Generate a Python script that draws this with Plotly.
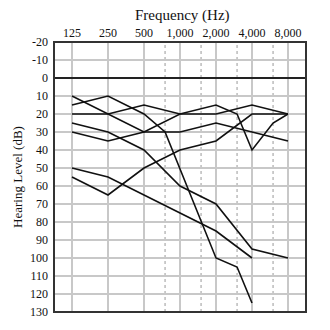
import plotly.graph_objects as go
import math

# Frequencies (Hz)
freq_std = [125, 250, 500, 1000, 2000, 4000, 8000]
freq_d = [125, 250, 500, 750, 2000, 3000, 4000]
freq_e = [125, 250, 500, 1000, 2000, 3000, 4000, 6000, 8000]
freq_g = [125, 250, 500, 1000, 2000, 4000]

# Hearing levels (dB)
series_a = [10, 20, 30, 30, 25, 30, 35]
series_b = [25, 30, 40, 60, 70, 95, 100]
series_c = [30, 35, 30, 20, 20, 15, 20]
series_d = [15, 10, 20, 30, 100, 105, 125]
series_e = [20, 20, 15, 20, 15, 20, 40, 25, 20]
series_f = [55, 65, 50, 40, 35, 20, 20]
series_g = [50, 55, 65, 75, 85, 100]

tick_vals = [125, 250, 500, 1000, 2000, 4000, 8000]
tick_text = ["125", "250", "500", "1,000", "2,000", "4,000", "8,000"]
inter_freqs = [750, 1500, 3000, 6000]
y_ticks = [-20, -10, 0, 10, 20, 30, 40, 50, 60, 70, 80, 90, 100, 110, 120, 130]
y_tick_text = ["-20", "-10", "0", "10", "20", "30", "40", "50", "60", "70", "80",
               "90", "100", "110", "120", "130"]

FONT = "Liberation Serif, Times New Roman, serif"

fig = go.Figure()
for fx, fy in [(freq_std, series_a), (freq_std, series_b), (freq_std, series_c),
               (freq_d, series_d), (freq_e, series_e), (freq_std, series_f),
               (freq_g, series_g)]:
    fig.add_trace(go.Scatter(x=fx, y=fy, mode="lines",
                             line=dict(color="#111111", width=1.6),
                             showlegend=False, hoverinfo="skip"))

x0 = math.log10(125 / math.sqrt(2))
x1 = math.log10(8000 * math.sqrt(2))

shapes = []
for f in inter_freqs:
    shapes.append(dict(type="line", xref="x", yref="paper", x0=f, x1=f, y0=0, y1=1,
                       line=dict(color="#9a9a9a", width=1, dash="dot"), layer="below"))
shapes.append(dict(type="line", xref="paper", yref="y", x0=0, x1=1, y0=0, y1=0,
                   line=dict(color="#222222", width=2)))
shapes.append(dict(type="rect", xref="paper", yref="paper", x0=0, x1=1, y0=0, y1=1,
                   line=dict(color="#333333", width=2)))

fig.update_layout(
    width=330, height=330,
    margin=dict(l=54, r=24, t=42, b=18),
    paper_bgcolor="white", plot_bgcolor="white",
    font=dict(family=FONT, size=12, color="#111111"),
    shapes=shapes,
    annotations=[dict(text="Frequency (Hz)", xref="paper", yref="paper",
                      x=0.51, y=1, yshift=27, showarrow=False,
                      xanchor="center", yanchor="middle",
                      font=dict(family=FONT, size=15, color="#111111"))],
    xaxis=dict(type="log", range=[x0, x1], side="top",
               tickvals=tick_vals, ticktext=tick_text,
               showgrid=True, gridcolor="#c8c8c8", gridwidth=2,
               ticks="", showline=False, zeroline=False,
               tickfont=dict(family=FONT, size=12), ticklabelstandoff=2),
    yaxis=dict(range=[130, -20], tickvals=y_ticks, ticktext=y_tick_text,
               showgrid=True, gridcolor="#c8c8c8", gridwidth=2,
               ticks="", showline=False, zeroline=False,
               tickfont=dict(family=FONT, size=12), ticklabelstandoff=5,
               title=dict(text="Hearing Level (dB)", font=dict(family=FONT, size=13),
                          standoff=4)),
)

fig.write_html("out.html")
